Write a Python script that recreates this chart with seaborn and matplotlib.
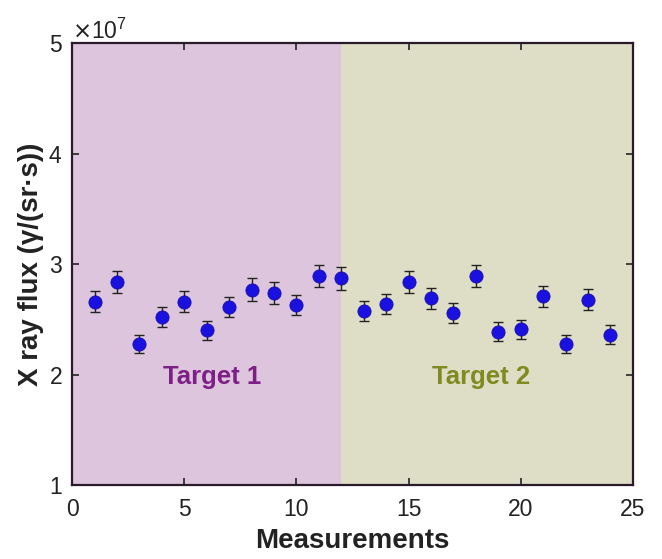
import matplotlib
matplotlib.use("Agg")
import matplotlib.pyplot as plt
import seaborn as sns
import numpy as np
import pandas as pd
from matplotlib.ticker import ScalarFormatter

measurements = list(range(1, 25))
flux = [2.66, 2.84, 2.28, 2.52, 2.66, 2.40, 2.61, 2.77, 2.74, 2.63, 2.89, 2.87,
        2.58, 2.64, 2.84, 2.69, 2.56, 2.89, 2.39, 2.41, 2.71, 2.28, 2.68, 2.36]
flux_err = [0.095, 0.10, 0.08, 0.09, 0.095, 0.085, 0.09, 0.10, 0.10, 0.09, 0.10, 0.10,
            0.09, 0.09, 0.10, 0.095, 0.09, 0.10, 0.085, 0.085, 0.095, 0.08, 0.095, 0.085]
scale = 1e7
region_edges = [(0, 12), (12, 25)]
region_labels = ["Target 1", "Target 2"]
region_label_x = [6.25, 18.25]
region_bg = ["#dcc5dd", "#dedec7"]
region_fg = ["#7e1f86", "#7f8a1f"]

sns.set_style("ticks")
plt.rcParams['font.family'] = ['Liberation Sans', 'DejaVu Sans']

df = pd.DataFrame({"Measurements": measurements,
                   "flux": np.array(flux) * scale,
                   "err": np.array(flux_err) * scale})

fig = plt.figure(figsize=(6.62, 5.59), dpi=100)
ax = fig.add_axes([0.109, 0.132, 0.847, 0.791])

for (x0, x1), label, lx, bg, fg in zip(region_edges, region_labels, region_label_x,
                                        region_bg, region_fg):
    ax.axvspan(x0, x1, color=bg, zorder=0, lw=0)
    ax.text(lx, 1.98 * scale, label, color=fg, fontsize=18.5, fontweight='bold',
            ha='center', va='center')

ax.errorbar(df["Measurements"], df["flux"], yerr=df["err"], fmt='none',
            ecolor='#222222', elinewidth=1.0, capsize=3.5, capthick=1.0, zorder=2)
sns.scatterplot(data=df, x="Measurements", y="flux", ax=ax, s=90,
                color='#1a10e0', edgecolor='#1a10a0', linewidth=0.6, zorder=3)

ax.set_xlim(0, 25)
ax.set_ylim(1e7, 5e7)
ax.set_xticks([0, 5, 10, 15, 20, 25])
ax.set_yticks([1e7, 2e7, 3e7, 4e7, 5e7])
fmt = ScalarFormatter(useMathText=True)
fmt.set_powerlimits((0, 0))
ax.yaxis.set_major_formatter(fmt)
ax.yaxis.get_offset_text().set_fontsize(16.5)
ax.yaxis.get_offset_text().set_color('#222222')

ax.tick_params(direction='in', length=5, width=1.2, labelsize=16.5, top=True, right=True,
               colors='#222222')
ax.tick_params(axis='x', pad=9)
ax.tick_params(axis='y', pad=7)
for sp in ax.spines.values():
    sp.set_linewidth(1.6)
    sp.set_color('#2b1a2b')

ax.set_xlabel("Measurements", fontsize=20, fontweight='bold', labelpad=5, color='#222222')
ax.set_ylabel("X ray flux (γ/(sr·s))", fontsize=20, fontweight='bold', labelpad=3,
              color='#222222')

fig.savefig("out.png", dpi=100)
